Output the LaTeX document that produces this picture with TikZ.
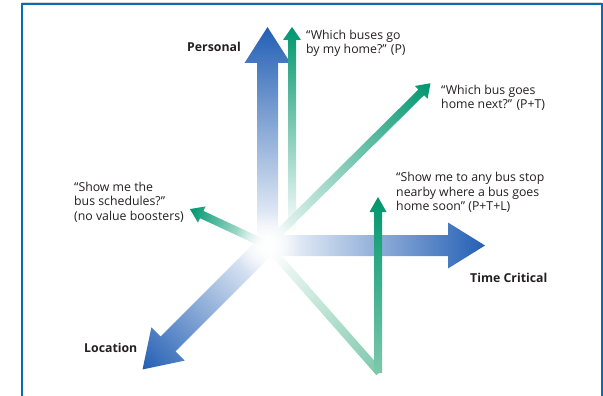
\documentclass[tikz,border=0pt]{standalone}
\usepackage{fontspec}
\setmainfont{Open Sans}
\usetikzlibrary{fadings}

\definecolor{framecol}{RGB}{10,107,181}
\definecolor{axisblue}{RGB}{35,95,180}
\definecolor{bluemid}{RGB}{165,175,222}
\definecolor{valuegreen}{RGB}{0,150,110}
\definecolor{greenpale}{RGB}{150,212,190}
\definecolor{greenmid}{RGB}{125,200,172}
\definecolor{textgray}{RGB}{35,31,32}

\tikzfading[name=glow, inner color=transparent!0, outer color=transparent!100]

\tikzset{
  bluefade/.style={left color=white, middle color=bluemid, right color=axisblue},
  greenfade/.style={left color=white, middle color=greenpale, right color=valuegreen},
  quotetext/.style={font=\fontsize{12.3}{14.3}\selectfont, align=left, inner sep=0pt, text=textgray},
  axislabel/.style={font=\fontsize{12.3}{14.3}\selectfont\bfseries, inner sep=0pt, text=textgray},
}

% #1 style, #2 origin, #3 angle, #4 length, #5 half shaft, #6 half head, #7 head length
\newcommand{\shadedarrow}[7]{%
  \shade[#1, transform canvas={shift={#2}, rotate=#3}]
    (0,-#5) -- ({#4-#7},-#5) -- ({#4-#7},-#6) -- (#4,0) -- ({#4-#7},#6)
    -- ({#4-#7},#5) -- (0,#5) -- cycle;}

\begin{document}
\begin{tikzpicture}[x=1pt,y=-1pt]
  \useasboundingbox (0,0) rectangle (603,396);
  % frame
  \draw[black!15, line width=1pt] (22,2.5) -- (602,2.5);
  \draw[framecol, line width=2.2pt] (22,400) -- (22,4.3) -- (601.9,4.3) -- (601.9,400);

  % value axes
  \shadedarrow{bluefade}{(267.5,245)}{90}{218}{10.5}{23}{36}   % personal
  \shadedarrow{bluefade}{(267,245.5)}{0}{218}{10.5}{23}{37}    % time critical
  \shadedarrow{bluefade}{(267,245)}{225}{176}{10.5}{23.5}{36}  % location

  % questions
  \shadedarrow{greenfade}{(292,232)}{90}{205}{4}{9}{13}
  \shadedarrow{greenfade}{(267,245)}{44.7}{230}{4}{9}{13}
  \shadedarrow{greenfade}{(267,245)}{155}{85}{4}{9}{13}
  \shade[left color=white, right color=greenmid,
    transform canvas={shift={(267,245)}, rotate=-48.6}]
    (0,-4) -- (170,-4) -- (170,4) -- (0,4) -- cycle;
  \shadedarrow{left color=greenmid, right color=valuegreen}{(378,373)}{90}{176}{4}{8.5}{15}

  % white glow in the middle
  \fill[white, path fading=glow] (267,245) circle (34);

  % labels
  \node[axislabel, anchor=east] (personal) at (241,46.5) {Personal};
  \node[axislabel, anchor=west] (timecritical) at (470,278) {Time Critical};
  \node[axislabel, anchor=west] (location) at (84,348) {Location};
  \node[quotetext, anchor=west] (busesgo) at (306,43) {“Which buses go\\by my home?” (P)};
  \node[quotetext, anchor=west] (busnext) at (441,98) {“Which bus goes\\home next?” (P+T)};
  \node[quotetext, anchor=west] (busstop) at (396,192.5)
    {“Show me to any bus stop\\nearby where a bus goes\\home soon” (P+T+L)};
  \node[quotetext, anchor=west] (schedules) at (74,202)
    {“Show me the\\bus schedules?”\\(no value boosters)};
\end{tikzpicture}
\end{document}
